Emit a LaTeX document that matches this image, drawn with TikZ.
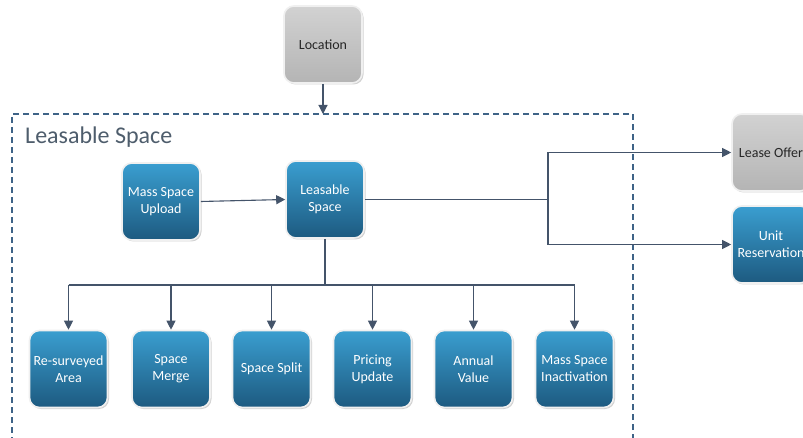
\documentclass[tikz,border=0pt]{standalone}
\usepackage{fontspec}
\setmainfont{Carlito}
\usetikzlibrary{arrows.meta,shadows,positioning}
\definecolor{linkc}{HTML}{44546A}
\definecolor{framec}{HTML}{3E6387}
\definecolor{titlec}{HTML}{4E5D6C}
\definecolor{bluetop}{HTML}{3A9ED0}
\definecolor{bluebot}{HTML}{1D5A80}
\definecolor{greytop}{HTML}{D2D2D2}
\definecolor{greybot}{HTML}{B4B4B4}
\tikzset{
  card/.style={rounded corners=10pt, minimum width=78pt, minimum height=77pt,
    draw=white!88!gray, line width=1.6pt, align=center, font=\fontsize{14}{17}\selectfont,
    drop shadow={shadow xshift=1.5pt, shadow yshift=-1.5pt, opacity=0.35}},
  bluecard/.style={card, top color=bluetop, bottom color=bluebot, text=white},
  greycard/.style={card, top color=greytop, bottom color=greybot, text=black!85},
  link/.style={draw=linkc, line width=1.1pt},
  arrow/.style={link, -{Triangle[length=9pt,width=9pt]}},
}
\begin{document}
\begin{tikzpicture}[x=1pt,y=-1pt]
  \useasboundingbox (0,0) rectangle (803,438);
  \clip (0,0) rectangle (803,438);
  \fill[white] (0,0) rectangle (803,438);

  % dashed group frame
  \draw[framec, line width=1.3pt, dash pattern=on 6pt off 4pt] (633,460) -- (633,114) -- (12,114) -- (12,460);
  \node[anchor=base west, text=titlec, font=\fontsize{24}{28}\selectfont, inner sep=0pt] (title) at (25,144) {Leasable Space};
  \coordinate (frametop) at (323,114);

  % nodes
  \node[greycard] (loc) at (323,44.5) {Location};
  \node[bluecard] (upload) at (161,201.5) {Mass Space\\Upload};
  \node[bluecard] (ls) at (325,199.5) {Leasable\\Space};
  \node[greycard] (offer) at (771,152.5) {Lease Offer};
  \node[bluecard] (unit) at (771,244.5) {Unit\\Reservation};

  \node[bluecard] (b1) at (68.5,369) {Re-surveyed\\Area};
  \node[bluecard] (b2) at (171,369) {Space\\Merge};
  \node[bluecard] (b3) at (271.5,369) {Space Split};
  \node[bluecard] (b4) at (372.5,369) {Pricing\\Update};
  \node[bluecard] (b5) at (473.5,369) {Annual\\Value};
  \node[bluecard] (b6) at (574.5,369) {Mass Space\\Inactivation};

  % connectors
  \draw[arrow] (loc.south) -- (frametop);
  \draw[arrow] (upload.east) -- (ls.west);
  \coordinate (split) at (548,199.5);
  \draw[link] (ls.east) -- (split);
  \draw[arrow] (split) |- (offer.west);
  \draw[arrow] (split) |- (unit.west);

  \coordinate (bus) at (325,285);
  \draw[link] (ls.south) -- (bus);
  \draw[link] (b1.north |- bus) -- (b6.north |- bus);
  \foreach \b in {b1,b2,b3,b4,b5,b6}
    \draw[arrow] (\b.north |- bus) -- (\b.north);
\end{tikzpicture}
\end{document}
